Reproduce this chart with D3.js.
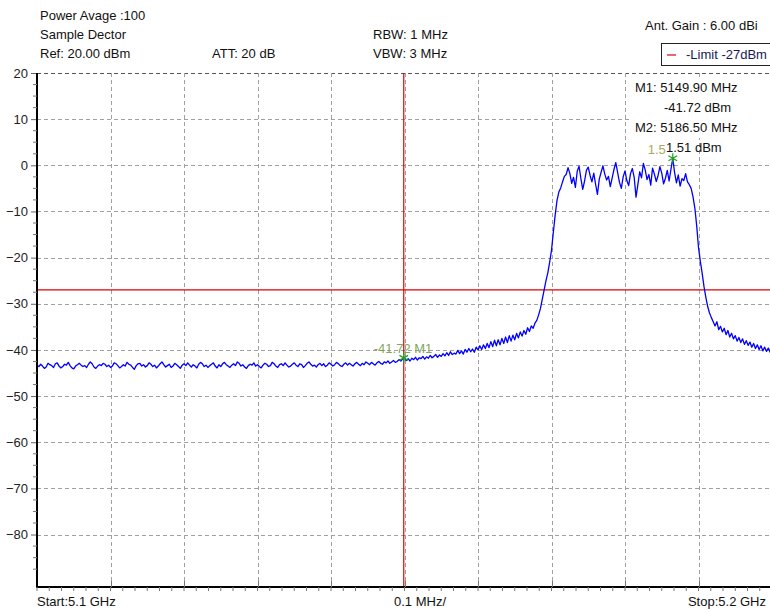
<!DOCTYPE html>
<html><head><meta charset="utf-8">
<script src="https://cdn.jsdelivr.net/npm/d3@7"></script>
<style>
html,body{margin:0;padding:0;background:#fff;}
svg text{font-family:"Liberation Sans",Arial,sans-serif;font-size:13px;}
</style></head>
<body><svg id="c" width="770" height="610"></svg>
<script>
// ---- data ----
const startMHz = 5100, stopMHz = 5200, stepMHz = 0.25;
const yTicks = [20,10,0,-10,-20,-30,-40,-50,-60,-70,-80];
const xGridMHz = [5110,5120,5130,5140,5150,5160,5170,5180,5190];
const limitDbm = -27;
const markerNames = ["M1","M2"];
const markerFreqs = [5149.90, 5186.50];
const markerLevels = [-41.72, 1.51];
const headerLines = ["Power Avage :100","Sample Dector","Ref: 20.00 dBm"];
const traceDbm = [
// 5100 - 5149.75
-43.3,-43.6,-43.1,-43.5,-44.0,-43.7,-42.9,-43.2,-43.4,-43.8,-43.0,-42.8,-43.5,-43.9,-43.6,-43.1,-43.3,-42.7,-43.4,-43.9,
-44.1,-43.5,-43.2,-42.9,-43.3,-43.6,-43.4,-43.8,-43.1,-42.6,-43.0,-43.7,-44.0,-43.5,-43.2,-43.4,-42.9,-43.1,-43.6,-43.3,
-43.8,-43.5,-42.8,-43.0,-43.4,-43.9,-43.6,-43.2,-43.5,-42.7,-43.1,-43.3,-43.8,-44.2,-43.4,-43.0,-42.9,-43.5,-43.2,-43.7,
-43.4,-42.8,-43.1,-43.6,-43.3,-43.9,-43.5,-43.0,-42.6,-43.2,-43.7,-43.4,-43.1,-43.8,-43.5,-42.9,-43.2,-43.6,-44.0,-43.3,
-43.0,-43.4,-42.8,-43.3,-43.7,-43.2,-43.5,-43.9,-43.1,-42.7,-43.0,-43.6,-43.3,-43.8,-43.4,-43.1,-42.8,-43.5,-43.9,-43.2,
-43.6,-43.0,-42.7,-43.2,-43.5,-43.8,-43.3,-43.0,-43.4,-42.6,-42.9,-43.5,-43.2,-43.7,-44.0,-43.4,-43.1,-43.3,-42.8,-43.5,
-43.2,-43.6,-43.9,-43.3,-42.9,-43.1,-43.6,-43.4,-42.7,-43.0,-43.5,-43.8,-43.2,-43.0,-43.4,-42.8,-43.3,-43.7,-43.5,-43.1,
-42.8,-43.3,-43.6,-43.0,-43.2,-43.8,-43.4,-42.9,-42.6,-43.1,-43.5,-43.3,-43.7,-43.2,-42.9,-43.4,-43.0,-43.6,-43.3,-42.8,
-43.1,-43.5,-43.2,-42.7,-43.0,-43.4,-43.6,-43.1,-42.8,-43.3,-42.9,-43.2,-43.5,-43.0,-42.7,-43.1,-43.4,-42.9,-43.2,-42.6,
-42.9,-43.2,-42.7,-43.0,-43.3,-42.8,-42.5,-42.9,-43.1,-42.6,-42.8,-42.4,-42.9,-42.6,-42.3,-42.7,-42.5,-42.1,-42.4,-42.0,
// 5150 - 5159.75
-41.7,-42.3,-41.9,-42.4,-41.8,-42.1,-41.6,-42.2,-41.7,-41.9,-41.4,-42.0,-41.5,-41.8,-41.2,-41.7,-41.4,-41.0,-41.6,-41.1,
-41.4,-40.8,-41.3,-40.6,-41.2,-40.4,-41.0,-40.7,-40.9,-40.1,-40.8,-40.2,-40.9,-39.9,-40.5,-39.7,-40.4,-39.8,-40.5,-39.4,
// 5160 - 5165.75
-40.0,-39.1,-39.9,-38.9,-39.7,-38.6,-39.5,-38.2,-39.3,-37.9,-39.1,-37.8,-38.9,-37.5,-38.6,-37.2,-38.4,-36.9,-38.1,-36.8,
-37.8,-36.4,-37.4,-36.1,
// 5166 - 5171.75
-37.0,-35.8,-36.6,-35.2,-36.0,-34.8,-35.3,-34.2,
-33.6,-32.4,-31.0,-29.0,-27.0,-25.0,-23.3,-21.0,-18.4,-14.5,-10.8,-7.6,-5.8,-4.9,-3.6,-2.4,
// 5172 - 5188.5
-2.0,-0.5,-1.8,-3.9,-2.6,-4.8,-1.3,-0.2,-2.9,-5.2,-3.4,-1.1,-0.4,-2.2,-3.6,-1.7,-4.1,-6.3,-3.0,-1.5,
-0.1,-1.9,-3.2,-2.4,-4.6,-2.8,-0.9,0.6,-1.6,-3.7,-5.0,-2.5,-1.2,-3.3,-4.4,-1.8,-0.7,-2.6,-6.9,-4.2,
-1.4,-2.7,0.4,-1.0,-3.1,-2.0,-4.3,-0.6,-1.9,-3.5,-2.2,-0.3,-1.7,-4.0,-2.8,-1.1,-3.4,-0.9,1.51,-1.6,
-3.8,-2.1,-4.5,-2.9,-3.3,-1.8,-3.6,
// 5188.75 - 5192
-4.2,-5.0,-6.8,-9.2,-13.0,-17.8,-20.8,-23.4,-26.3,-28.6,-30.6,-32.0,-33.0,-33.9,
// 5192.25 - 5200
-34.8,-33.9,-35.6,-34.9,-36.1,-35.3,-36.7,-35.8,-37.2,-36.4,-37.6,-36.9,-38.1,-37.3,-38.4,-37.6,
-38.8,-38.0,-39.0,-38.3,-39.4,-38.6,-39.7,-38.9,-39.9,-39.1,-40.2,-39.4,-40.3,-39.6,-40.5,-39.8
];

// ---- drawing ----
const svg = d3.select("#c");
const W = 770, H = 610;
const plotLeft = 37, plotRight = 772, plotTop = 73, bottomAxis = 587;
const x = d3.scaleLinear().domain([startMHz, stopMHz]).range([plotLeft, plotRight]);
const y = d3.scaleLinear().domain([-90, 20]).range([580.7, plotTop]);

svg.append("rect").attr("width", W).attr("height", H).attr("fill", "#fff");

const gridColor = "#a0a0a0";
svg.append("g").selectAll("line").data(yTicks).join("line")
  .attr("x1", plotLeft).attr("x2", plotRight)
  .attr("y1", d => Math.round(y(d)) + 0.5).attr("y2", d => Math.round(y(d)) + 0.5)
  .attr("stroke", d => d === 20 ? "#555" : gridColor)
  .attr("stroke-dasharray", "4,3").attr("stroke-width", 1);
svg.append("g").selectAll("line").data(xGridMHz).join("line")
  .attr("x1", d => Math.round(x(d)) + 0.5).attr("x2", d => Math.round(x(d)) + 0.5)
  .attr("y1", plotTop).attr("y2", bottomAxis)
  .attr("stroke", gridColor).attr("stroke-dasharray", "4,3");

svg.append("rect").attr("x", 631).attr("y", 78).attr("width", 141).attr("height", 60).attr("fill", "#fff");

svg.append("line").attr("x1", plotLeft).attr("x2", plotRight)
  .attr("y1", y(limitDbm)).attr("y2", y(limitDbm))
  .attr("stroke", "#e00000").attr("stroke-width", 1.2);

svg.append("line").attr("x1", x(markerFreqs[0])).attr("x2", x(markerFreqs[0]))
  .attr("y1", plotTop).attr("y2", bottomAxis)
  .attr("stroke", "#e00000").attr("stroke-width", 1.2);

const line = d3.line().x((d, i) => x(startMHz + i * stepMHz)).y(d => y(d));
svg.append("path").datum(traceDbm).attr("d", line)
  .attr("fill", "none").attr("stroke", "#0000ff").attr("stroke-width", 1.3)
  .attr("stroke-linejoin", "round");

const star = d3.symbol().type(d3.symbolAsterisk).size(70);
markerFreqs.forEach((f, i) => {
  svg.append("path").attr("d", star)
    .attr("transform", `translate(${x(f)},${y(markerLevels[i])})`)
    .attr("fill", "none").attr("stroke", "#20a020").attr("stroke-width", 1.2);
});
svg.append("text").attr("x", x(markerFreqs[0]) - 30).attr("y", y(markerLevels[0]) - 5)
  .attr("fill", "#6f9a45").attr("fill-opacity", 0.9).attr("font-size", 12)
  .text(markerLevels[0].toFixed(2) + " " + markerNames[0]);
svg.append("text").attr("x", x(markerFreqs[1]) - 7).attr("y", y(markerLevels[1]) - 4)
  .attr("text-anchor", "end").attr("fill", "#a8a860")
  .text(markerLevels[1].toFixed(1));

const readout = [
  {t: `${markerNames[0]}: ${markerFreqs[0].toFixed(2)} MHz`, x: 635, y: 92},
  {t: `${markerLevels[0].toFixed(2)} dBm`, x: 664, y: 112},
  {t: `${markerNames[1]}: ${markerFreqs[1].toFixed(2)} MHz`, x: 635, y: 132},
  {t: `${markerLevels[1].toFixed(2)} dBm`, x: 666, y: 152}
];
readout.forEach(r => {
  svg.append("text").attr("x", r.x).attr("y", r.y).attr("fill", "#111").text(r.t);
});

svg.append("line").attr("x1", plotLeft).attr("x2", plotLeft).attr("y1", plotTop).attr("y2", bottomAxis + 1)
  .attr("stroke", "#000").attr("stroke-width", 2);
svg.append("line").attr("x1", plotLeft - 1).attr("x2", W).attr("y1", bottomAxis).attr("y2", bottomAxis)
  .attr("stroke", "#000").attr("stroke-width", 2);

const yAxis = d3.axisLeft(y).tickValues(yTicks).tickSize(5).tickFormat(d3.format("d"));
const gy = svg.append("g").attr("transform", `translate(${plotLeft - 1},0)`).call(yAxis);
gy.select(".domain").remove();
gy.selectAll("text").attr("font-size", 13).attr("fill", "#222").attr("x", -8)
  .style("font-family", '"Liberation Sans",Arial,sans-serif');
gy.selectAll("line").attr("stroke", "#666");
const yMinor = d3.range(-90, 20, 2.5).filter(v => v % 10 !== 0);
svg.append("g").selectAll("line").data(yMinor).join("line")
  .attr("x1", plotLeft - 4).attr("x2", plotLeft).attr("y1", d => y(d)).attr("y2", d => y(d))
  .attr("stroke", "#777");

const xMinor = d3.range(startMHz, stopMHz + 0.01, 100 / 60);
svg.append("g").selectAll("line").data(xMinor).join("line")
  .attr("x1", d => x(d)).attr("x2", d => x(d)).attr("y1", bottomAxis).attr("y2", bottomAxis + 4)
  .attr("stroke", "#777");
svg.append("g").selectAll("line").data(xGridMHz).join("line")
  .attr("x1", d => Math.round(x(d)) + 0.5).attr("x2", d => Math.round(x(d)) + 0.5)
  .attr("y1", bottomAxis - 6).attr("y2", bottomAxis)
  .attr("stroke", "#777");

svg.append("text").attr("x", 37).attr("y", 606).attr("fill", "#111").text("Start:5.1 GHz");
svg.append("text").attr("x", 394).attr("y", 606).attr("fill", "#111").text("0.1 MHz/");
svg.append("text").attr("x", 766).attr("y", 606).attr("text-anchor", "end").attr("fill", "#111").text("Stop:5.2 GHz");

headerLines.forEach((h, i) => {
  svg.append("text").attr("x", 40).attr("y", 20 + i * 19).attr("fill", "#111").text(h);
});
svg.append("text").attr("x", 212).attr("y", 58).attr("fill", "#111").text("ATT: 20 dB");
svg.append("text").attr("x", 373).attr("y", 39).attr("fill", "#111").text("RBW: 1 MHz");
svg.append("text").attr("x", 373).attr("y", 58).attr("fill", "#111").text("VBW: 3 MHz");
svg.append("text").attr("x", 645).attr("y", 30).attr("fill", "#111").text("Ant. Gain : 6.00 dBi");

svg.append("rect").attr("x", 661.5).attr("y", 43.5).attr("width", 120).attr("height", 22)
  .attr("fill", "#fff").attr("stroke", "#222");
svg.append("line").attr("x1", 667).attr("x2", 676).attr("y1", 55).attr("y2", 55)
  .attr("stroke", "#e00000").attr("stroke-width", 1.2);
svg.append("text").attr("x", 686).attr("y", 59).attr("fill", "#1a1a50").attr("font-size", 12).text("-Limit " + limitDbm + "dBm");
</script>
</body></html>
